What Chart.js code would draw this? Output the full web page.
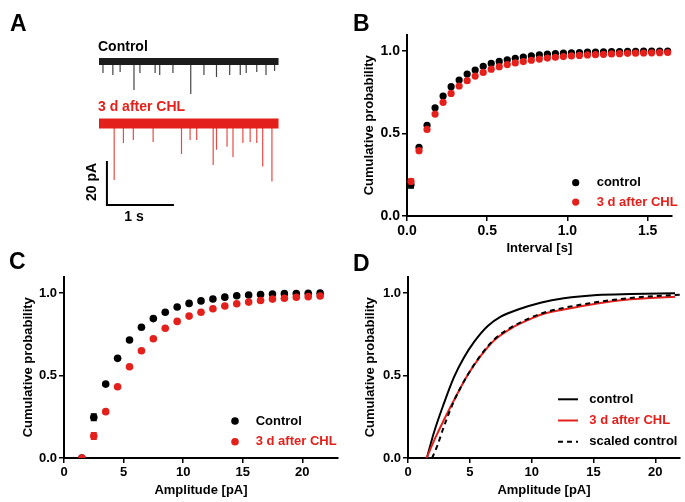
<!DOCTYPE html>
<html><head><meta charset="utf-8">
<script src="https://cdn.jsdelivr.net/npm/chart.js@4.4.1/dist/chart.umd.min.js"></script>
<style>
html,body{margin:0;padding:0;background:#fff;}
body{width:685px;height:502px;position:relative;overflow:hidden;font-family:'Liberation Sans',Arial,sans-serif;}
canvas{position:absolute;}
.lbl{position:absolute;font-weight:bold;white-space:nowrap;line-height:1;z-index:5;}
.panel{font-size:23px;color:#000;}
.t14{font-size:14px;}
</style></head><body>
<canvas id="cA" width="300" height="240" style="left:0;top:0;width:300px;height:240px"></canvas>
<canvas id="cB" width="395" height="260" style="left:290px;top:0;width:395px;height:260px"></canvas>
<canvas id="cC" width="345" height="252" style="left:0;top:250px;width:345px;height:252px"></canvas>
<canvas id="cD" width="340" height="252" style="left:345px;top:250px;width:340px;height:252px"></canvas>
<div class="lbl panel" style="left:10px;top:12px">A</div>
<div class="lbl panel" style="left:353px;top:12px">B</div>
<div class="lbl panel" style="left:9px;top:250px">C</div>
<div class="lbl panel" style="left:353px;top:252px">D</div>
<div class="lbl t14" style="left:98px;top:39px;color:#000">Control</div>
<div class="lbl t14" style="left:98px;top:99px;color:#e3201b">3 d after CHL</div>
<div class="lbl t14" style="left:91px;top:181.5px;transform:translate(-50%,-50%) rotate(-90deg)">20 pA</div>
<div class="lbl t14" style="left:134px;top:216px;transform:translate(-50%,-50%)">1 s</div>
<script>
// ---------- DATA ----------
// Panel A: example traces (time in s, amplitude in pA)
const traceDuration = 2.72;
const ctrlBaseline = 0;
const chlBaseline = -28.8;
const ctrlEventTimes = [0.06, 0.21, 0.32, 0.53, 0.62, 0.85, 0.92, 1.12, 1.39, 1.59, 1.78, 1.98, 2.14, 2.23, 2.39, 2.53, 2.66];
const ctrlEventAmps  = [5.3, 6.3, 4.9, 13.3, 5.3, 5.3, 6.3, 5.3, 15.1, 6.3, 7.2, 6.3, 6.3, 5.3, 4.9, 6.3, 4.4];
const chlEventTimes = [0.23, 0.37, 0.52, 0.82, 1.25, 1.38, 1.48, 1.73, 1.78, 1.94, 2.03, 2.18, 2.29, 2.39, 2.48, 2.62];
const chlEventAmps  = [26.3, 9.1, 7.7, 8.6, 14.2, 7.7, 7.7, 19.3, 12.3, 10.9, 15.6, 9.1, 8.6, 9.1, 20.0, 27.0];
const scaleBarT  = [0.12, 0.12, 1.12];
const scaleBarPA = [-46.7, -66.7, -66.7];

// Panel B: inter-event interval cumulative probability
const intervalBins = [0.025,0.075,0.125,0.175,0.225,0.275,0.325,0.375,0.425,0.475,0.525,0.575,0.625,0.675,0.725,0.775,0.825,0.875,0.925,0.975,1.025,1.075,1.125,1.175,1.225,1.275,1.325,1.375,1.425,1.475,1.525,1.575,1.625];
const intervalControl = [0.19,0.416,0.55,0.656,0.727,0.784,0.824,0.86,0.885,0.907,0.925,0.937,0.947,0.956,0.963,0.97,0.976,0.981,0.984,0.987,0.989,0.991,0.993,0.994,0.995,0.996,0.997,0.998,0.998,0.999,0.999,1.0,1.0];
const intervalCHL = [0.21,0.396,0.525,0.618,0.689,0.743,0.788,0.82,0.848,0.87,0.89,0.905,0.918,0.928,0.936,0.944,0.951,0.957,0.962,0.966,0.97,0.973,0.976,0.978,0.98,0.982,0.984,0.986,0.987,0.988,0.989,0.99,0.991];
const intervalControlErr = [0.02,0.01];
const intervalCHLErr = [0.015,0.01];
const intervalTicks = [0, 0.5, 1.0, 1.5];
const intervalTickLabels = ['0.0','0.5','1.0','1.5'];

// Panel C: amplitude cumulative probability
const ampBins = [1.5,2.5,3.5,4.5,5.5,6.5,7.5,8.5,9.5,10.5,11.5,12.5,13.5,14.5,15.5,16.5,17.5,18.5,19.5,20.5,21.5];
const ampControl = [0,0.247,0.448,0.604,0.715,0.792,0.845,0.883,0.915,0.937,0.952,0.964,0.975,0.983,0.988,0.991,0.994,0.996,0.997,0.998,0.999];
const ampCHL = [0,0.133,0.281,0.432,0.553,0.65,0.723,0.786,0.828,0.86,0.883,0.905,0.921,0.935,0.945,0.955,0.963,0.968,0.974,0.978,0.982];
const ampControlErr = [0,0.02];
const ampCHLErr = [0,0.02];
const ampTicks = [0,5,10,15,20];
const ampTickLabels = ['0','5','10','15','20'];

// Panel D: cumulative curves
const fitControlX = [1.53,2.08,2.9,3.72,4.54,5.36,6.45,7.5,8.9,10.8,12.6,15.3,18,21.6];
const fitControlY = [0,0.15,0.33,0.49,0.61,0.705,0.80,0.857,0.90,0.943,0.968,0.988,0.994,0.998];
const fitCHLX = [1.5,2.2,2.9,3.72,4.8,5.9,7.0,8.35,9.7,10.8,12.6,15.3,18,21.6];
const fitCHLY = [0,0.12,0.23,0.35,0.5,0.62,0.715,0.786,0.836,0.87,0.90,0.937,0.962,0.978];
const fitScaledX = [1.95,2.35,2.9,3.72,4.8,5.9,7.0,8.35,9.7,10.8,12.6,15.3,18,22.0];
const fitScaledY = [0,0.07,0.19,0.345,0.5,0.625,0.72,0.792,0.843,0.876,0.91,0.945,0.97,0.99];

const probTicks = [0, 0.5, 1.0];
const probTickLabels = ['0.0','0.5','1.0'];

// ---------- STYLE ----------
const BLACK = '#000000';
const RED = '#e3201b';
const FONT = "'Liberation Sans', Arial, sans-serif";
Chart.defaults.font.family = FONT;
Chart.defaults.font.weight = 'bold';
Chart.defaults.color = '#000';

function pts(xs, ys){ return xs.map((x,i)=>({x:x, y:ys[i]})); }

const errorBars = {
  id:'errorBars',
  afterDatasetDraw(chart, args){
    const ds = chart.data.datasets[args.index];
    if(!ds.errors) return;
    const ctx = chart.ctx, ys = chart.scales.y;
    ctx.save(); ctx.strokeStyle = ds.borderColor; ctx.lineWidth = 1.5;
    args.meta.data.forEach((pt,i)=>{
      const e = ds.errors[i]; if(!e) return;
      const v = ds.data[i].y;
      const y1 = ys.getPixelForValue(v+e), y2 = ys.getPixelForValue(v-e);
      ctx.beginPath();
      ctx.moveTo(pt.x,y1); ctx.lineTo(pt.x,y2);
      ctx.moveTo(pt.x-3,y1); ctx.lineTo(pt.x+3,y1);
      ctx.moveTo(pt.x-3,y2); ctx.lineTo(pt.x+3,y2);
      ctx.stroke();
    });
    ctx.restore();
  }
};

const insideLegend = {
  id:'insideLegend',
  afterDraw(chart, args, o){
    if(!o || !o.items) return;
    const ctx = chart.ctx, a = chart.chartArea;
    ctx.save();
    ctx.font = 'bold 13px ' + FONT;
    ctx.textBaseline = 'middle';
    o.items.forEach((di,i)=>{
      const ds = chart.data.datasets[di];
      const y = a.top + o.y + i*o.gap;
      const mx = a.left + o.x;
      if(o.line){
        ctx.strokeStyle = ds.borderColor; ctx.lineWidth = ds.borderWidth;
        ctx.setLineDash(ds.borderDash || []);
        ctx.beginPath(); ctx.moveTo(mx-10,y); ctx.lineTo(mx+10,y); ctx.stroke();
        ctx.setLineDash([]);
      } else {
        ctx.fillStyle = ds.backgroundColor;
        ctx.beginPath(); ctx.arc(mx,y,ds.pointRadius,0,Math.PI*2); ctx.fill();
      }
      ctx.fillStyle = ds.labelColor || ds.borderColor;
      ctx.fillText(ds.label, a.left + o.textX, y);
    });
    ctx.restore();
  }
};

function axis(min, max, ticks, labels, title, isX, fit, tickSize){
  return {
    type:'linear', min:min, max:max,
    afterBuildTicks: s => { s.ticks = ticks.map(v=>({value:v})); },
    ticks:{callback:(v,i)=>labels[i], font:{size:tickSize, weight:'bold'}, color:'#000', padding:2, maxRotation:0, autoSkip:false},
    grid:{display:true, drawOnChartArea:false, drawTicks:true, tickLength:5, color:'#000', lineWidth:1.5},
    border:{display:true, color:'#000', width:2},
    title:{display:true, text:title, font:{size:13, weight:'bold'}, color:'#000', padding:{top:4,bottom:4}},
    afterFit: s => { if(isX) s.height = fit; else s.width = fit; }
  };
}

// ---------- PANEL A ----------
function eventSegments(times, amps, base){
  const out = [];
  times.forEach((t,i)=>{ out.push({x:t,y:base},{x:t,y:base-amps[i]},{x:t,y:null}); });
  return out;
}
new Chart(document.getElementById('cA'), {
  type:'line',
  data:{datasets:[
    {data:[{x:0,y:ctrlBaseline},{x:traceDuration,y:ctrlBaseline}], borderColor:'#1c1c1c', borderWidth:7, pointRadius:0, borderCapStyle:'butt'},
    {data:eventSegments(ctrlEventTimes, ctrlEventAmps, ctrlBaseline), borderColor:'#444', borderWidth:1.2, pointRadius:0, spanGaps:false},
    {data:[{x:0,y:chlBaseline},{x:traceDuration,y:chlBaseline}], borderColor:RED, borderWidth:10, pointRadius:0, borderCapStyle:'butt'},
    {data:eventSegments(chlEventTimes, chlEventAmps, chlBaseline), borderColor:'#ea4a45', borderWidth:1.2, pointRadius:0, spanGaps:false},
    {data:pts(scaleBarT, scaleBarPA), borderColor:BLACK, borderWidth:2, pointRadius:0, borderCapStyle:'square'}
  ]},
  options:{
    animation:false, responsive:false, devicePixelRatio:1,
    layout:{padding:{left:99, right:21, top:40, bottom:6.5}},
    plugins:{legend:{display:false}, tooltip:{enabled:false}},
    scales:{
      x:{type:'linear', min:0, max:2.727, display:false},
      y:{type:'linear', min:-80, max:10, display:false}
    }
  }
});

// ---------- PANEL B ----------
new Chart(document.getElementById('cB'), {
  type:'scatter',
  data:{datasets:[
    {label:'control', data:pts(intervalBins, intervalControl), errors:intervalControlErr, backgroundColor:BLACK, borderColor:BLACK, pointRadius:3.6, pointBorderWidth:0, order:1},
    {label:'3 d after CHL', data:pts(intervalBins, intervalCHL), errors:intervalCHLErr, backgroundColor:RED, borderColor:RED, pointRadius:3.6, pointBorderWidth:0, order:0}
  ]},
  options:{
    animation:false, responsive:false, devicePixelRatio:1,
    layout:{padding:{left:67.2, top:34.5, right:13.3, bottom:0}},
    plugins:{legend:{display:false}, tooltip:{enabled:false},
      insideLegend:{items:[0,1], x:168.7, y:148.2, gap:19.4, textX:189.7}},
    scales:{
      x:axis(0, 1.65, intervalTicks, intervalTickLabels, 'Interval [s]', true, 44, 14),
      y:axis(0, 1.1, probTicks, probTickLabels, 'Cumulative probability', false, 49.8, 14)
    }
  },
  plugins:[errorBars, insideLegend]
});

// ---------- PANEL C ----------
new Chart(document.getElementById('cC'), {
  type:'scatter',
  data:{datasets:[
    {label:'Control', data:pts(ampBins, ampControl), errors:ampControlErr, backgroundColor:BLACK, borderColor:BLACK, pointRadius:3.8, pointBorderWidth:0, order:1},
    {label:'3 d after CHL', data:pts(ampBins, ampCHL), errors:ampCHLErr, backgroundColor:RED, borderColor:RED, pointRadius:3.8, pointBorderWidth:0, order:0}
  ]},
  options:{
    animation:false, responsive:false, devicePixelRatio:1,
    layout:{padding:{left:16.5, top:26.5, right:7, bottom:0}},
    plugins:{legend:{display:false}, tooltip:{enabled:false},
      insideLegend:{items:[0,1], x:171, y:144.5, gap:20.7, textX:191.7}},
    scales:{
      x:axis(0, 23, ampTicks, ampTickLabels, 'Amplitude [pA]', true, 44, 13),
      y:axis(0, 1.1, probTicks, probTickLabels, 'Cumulative probability', false, 47.5, 13)
    }
  },
  plugins:[errorBars, insideLegend]
});

// ---------- PANEL D ----------
new Chart(document.getElementById('cD'), {
  type:'line',
  data:{datasets:[
    {label:'control', data:pts(fitControlX, fitControlY), borderColor:BLACK, borderWidth:2, pointRadius:0, cubicInterpolationMode:'monotone', order:2},
    {label:'3 d after CHL', data:pts(fitCHLX, fitCHLY), borderColor:RED, borderWidth:2, pointRadius:0, cubicInterpolationMode:'monotone', order:1},
    {label:'scaled control', data:pts(fitScaledX, fitScaledY), borderColor:BLACK, borderWidth:2, borderDash:[5,4], pointRadius:0, cubicInterpolationMode:'monotone', order:0}
  ]},
  options:{
    animation:false, responsive:false, devicePixelRatio:1,
    layout:{padding:{left:13.9, top:26.5, right:5, bottom:0}},
    plugins:{legend:{display:false}, tooltip:{enabled:false},
      insideLegend:{items:[0,1,2], line:true, x:160, y:122.8, gap:21.2, textX:181.3}},
    scales:{
      x:axis(0, 22, ampTicks, ampTickLabels, 'Amplitude [pA]', true, 44, 13),
      y:axis(0, 1.1, probTicks, probTickLabels, 'Cumulative probability', false, 49.1, 13)
    }
  },
  plugins:[insideLegend]
});
</script>
</body></html>
